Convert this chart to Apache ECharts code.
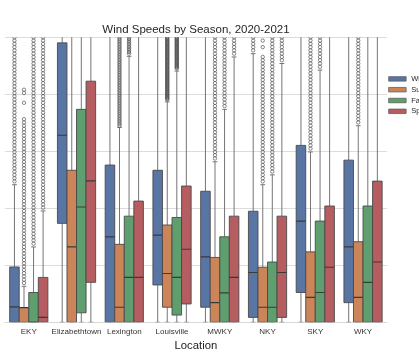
<!DOCTYPE html>
<html><head><meta charset="utf-8">
<script src="https://cdn.jsdelivr.net/npm/echarts@6/dist/echarts.min.js"></script>
<style>html,body{margin:0;padding:0;background:#fff}#c{width:419px;height:358px}</style>
</head><body><div id="c"></div>
<script>
const locations = ['EKY','Elizabethtown','Lexington','Louisville','MWKY','NKY','SKY','WKY'];
const seasons = ['Winter','Summer','Fall','Spring'];
const seasonColors = ['#5975a4','#cc8558','#5f9e6e','#b55d60'];

// box stats per location: [whiskerLow, q1, median, q3, whiskerHigh]
const winterBox = [[0,0,4.7,16.9,42],[0,30.2,57.1,85.3,110],[0,0,26.1,48,110],[0,11.4,26.6,46.4,98],[0,4.6,20,40,93],[0,1.5,15.2,33.9,82],[0,9.1,30.9,54,120],[0,6,23,49.5,115]];
const summerBox = [[0,0,4.5,4.5,11],[0,0,23,46.4,110],[0,0,4.6,23.8,59.5],[0,4.6,14.9,29.7,67.3],[0,0,6,19.8,49],[0,0,4.6,16.8,42],[0,0,7.6,21.5,52],[0,0,7.6,24.6,60]];
const fallBox = [[0,0,0,9.1,23],[0,2.9,35.2,65,108],[0,0,13.7,32.4,81.2],[0,2.2,13.7,32,76.7],[0,0,9,26.1,65],[0,0,4.6,18.4,45],[0,0,9.1,30.9,77],[0,0,12.2,35.5,100]];
const springBox = [[0,0,1.5,13.7,34],[0,12.2,43.2,73.6,120],[0,0,13.7,37,92],[0,5.6,22.3,41.6,95],[0,0,13.7,32.4,81],[0,1.5,15.2,32.4,79],[0,0,16.8,35.5,88],[0,0,18.4,43.1,100]];

// outliers per location
const winterOutliers = [
 [43,44,45,46,47,48,49,50,51,52,53,54,55,56,57,58,59,60,61,62,63,64,65,66,67,68,69,70,71,72,73,74,75,76,77,78,79,80,81,82,83,84,85,86,87],
 [],[],[],[],
 [83,84,85,86,87],
 [],[]
];
const summerOutliers = [
 [12,13,14,15,16,17,18,19,20,21,22,23,24,25,26,27,28,29,30,31,32,33,34,35,36,37,38,39,40,41,42,43,44,45,46,47,48,49,50,51,52,53,54,55,56,57,58,59,60,61,62,67,70,71],
 [],
 [60,60.5,61,61.5,62,62.5,63,63.5,64,64.5,65,65.5,66,66.5,67,67.5,68,68.5,69,69.5,70,70.5,71,71.5,72,72.5,73,73.5,74,74.5,75,75.5,76,76.5,77,77.5,78,78.5,79,79.5,80,80.5,81,81.5,82,82.5,83,83.5,84,84.5,85,85.5,86,86.5,87],
 [68,68.25,68.5,68.75,69,69.25,69.5,69.75,70,70.25,70.5,70.75,71,71.25,71.5,71.75,72,72.25,72.5,72.75,73,73.25,73.5,73.75,74,74.25,74.5,74.75,75,75.25,75.5,75.75,76,76.25,76.5,76.75,77,77.25,77.5,77.75,78,78.25,78.5,78.75,79,79.25,79.5,79.75,80,80.25,80.5,80.75,81,81.25,81.5,81.75,82,82.25,82.5,82.75,83,83.25,83.5,83.75,84,84.25,84.5,84.75,85,85.25,85.5,85.75,86,86.25,86.5,86.75,87],
 [50,51,52,53,54,55,56,57,58,59,60,61,62,63,64,65,66,67,68,69,70,71,72,73,74,75,76,77,78,79,80,81,82,83,84,85,86,87],
 [43,44,45,46,47,48,49,50,51,52,53,54,55,56,57,58,59,60,61,62,63,64,65,66,67,68,69,70,71,72,73,74,75,76,77,78,79,80,81,84,86],
 [53,54,55,56,57,58,59,60,61,62,63,64,65,66,67,68,69,70,71,72,73,74,75,76,77,78,79,80,81,82,83,84,85,86,87],
 [61,62,63,64,65,66,67,68,69,70,71,72,73,74,75,76,77,78,79,80,81,82,83,84,85,86,87]
];
const fallOutliers = [
 [24,25,26,27,28,29,30,31,32,33,34,35,36,37,38,39,40,41,42,43,44,45,46,47,48,49,50,51,52,53,54,55,56,57,58,59,60,61,62,63,64,65,66,67,68,69,70,71,72,73,74,75,76,77,78,79,80,81,82,83,84,85,86,87],
 [],
 [82,82.5,83,83.5,84,84.5,85,85.5,86,86.5,87],
 [77.5,77.75,78,78.25,78.5,78.75,79,79.25,79.5,79.75,80,80.25,80.5,80.75,81,81.25,81.5,81.75,82,82.25,82.5,82.75,83,83.25,83.5,83.75,84,84.25,84.5,84.75,85,85.25,85.5,85.75,86,86.25,86.5,86.75,87],
 [66,67,68,69,70,71,72,73,74,75,76,77,78,79,80,81,82,83,84,85,86,87],
 [46,47,48,49,50,51,52,53,54,55,56,57,58,59,60,61,62,63,64,65,66,67,68,69,70,71,72,73,74,75,76,77,78,79,80,81,82,83,84,85,86,87],
 [78,79,80,81,82,83,84,85,86,87],
 []
];
const springOutliers = [
 [35,36,37,38,39,40,41,42,43,44,45,46,47,48,49,50,51,52,53,54,55,56,57,58,59,60,61,62,63,64,65,66,67,68,69,70,71,72,73,74,75,76,77,78,79,80,81,82,83,84,85,86,87],
 [],[],[],
 [82,83,84,85,86,87],
 [80,81,82,83,84,85,86,87],
 [],[]
];

const boxSets = [winterBox, summerBox, fallBox, springBox];
const outlierSets = [winterOutliers, summerOutliers, fallOutliers, springOutliers];
const EDGE = '#4a4a4a';

function boxRenderer(s){
  return function(params, api){
    const cat = api.value(0);
    const band = api.size([1,0])[0];
    const bw = band*0.2;
    const cx = api.coord([cat,0])[0] + (s-1.5)*bw;
    const yL = api.coord([cat, api.value(1)])[1];
    const yQ1 = api.coord([cat, api.value(2)])[1];
    const yM = api.coord([cat, api.value(3)])[1];
    const yQ3 = api.coord([cat, api.value(4)])[1];
    const yH = api.coord([cat, api.value(5)])[1];
    const ls = {stroke:'#666', lineWidth:0.9, fill:null};
    return {type:'group', children:[
      {type:'line', shape:{x1:cx,y1:yQ3,x2:cx,y2:yH}, style:ls},
      {type:'line', shape:{x1:cx,y1:yQ1,x2:cx,y2:yL}, style:ls},
      {type:'line', shape:{x1:cx-bw/4,y1:yH,x2:cx+bw/4,y2:yH}, style:ls},
      {type:'line', shape:{x1:cx-bw/4,y1:yL,x2:cx+bw/4,y2:yL}, style:ls},
      {type:'rect', shape:{x:cx-bw/2, y:yQ3, width:bw, height:Math.max(yQ1-yQ3,0)}, style:{fill:seasonColors[s], stroke:EDGE, lineWidth:0.9}},
      {type:'line', shape:{x1:cx-bw/2,y1:yM,x2:cx+bw/2,y2:yM}, style:{stroke:'#3a3a3a', lineWidth:1.2}}
    ]};
  };
}
function outlierRenderer(s){
  return function(params, api){
    const cat = api.value(0);
    const band = api.size([1,0])[0];
    const bw = band*0.2;
    const cx = api.coord([cat,0])[0] + (s-1.5)*bw;
    const cy = api.coord([cat, api.value(1)])[1];
    return {type:'circle', shape:{cx:cx, cy:cy, r:1.7}, style:{fill:null, stroke:'#555', lineWidth:0.7}};
  };
}

const series = [];
seasons.forEach((name, s) => {
  series.push({
    name: name, type:'custom', clip:true,
    itemStyle:{color:seasonColors[s]},
    renderItem: boxRenderer(s),
    encode:{x:0, y:[1,2,3,4,5]},
    data: boxSets[s].map((b,i)=>[i].concat(b))
  });
});
seasons.forEach((name, s) => {
  const pts = [];
  outlierSets[s].forEach((arr,i)=>arr.forEach(v=>pts.push([i,v])));
  series.push({
    name: name+' outliers', type:'custom', clip:true,
    renderItem: outlierRenderer(s),
    encode:{x:0, y:1},
    data: pts
  });
});

const chart = echarts.init(document.getElementById('c'), null, {renderer:'canvas'});
chart.setOption({
  animation:false,
  textStyle:{fontFamily:'Liberation Sans, Arial, sans-serif'},
  title:{text:'Wind Speeds by Season, 2020-2021', left:191, top:19, textAlign:'center',
    textStyle:{fontSize:11.5, fontWeight:'normal', color:'#262626', fontFamily:'Liberation Sans'}},
  legend:{data:seasons, orient:'vertical', left:383.3, top:68.5, itemWidth:17.5, itemHeight:4.5, itemGap:0,
    icon:'rect', itemStyle:{borderColor:'#555', borderWidth:0.7},
    textStyle:{fontSize:7.5, lineHeight:10.8, color:'#262626'}},
  grid:{left:4.9, right:32.1, top:37.3, bottom:35.7, containLabel:false},
  xAxis:{type:'category', data:locations, boundaryGap:true,
    axisLine:{show:true, lineStyle:{color:'#d9d9d9'}}, axisTick:{show:false}, splitLine:{show:false},
    axisLabel:{fontSize:8, color:'#333', margin:5, interval:0},
    name:'Location', nameLocation:'middle', nameGap:9, nameTextStyle:{fontSize:11.3, color:'#222'}},
  yAxis:{type:'value', min:0, max:87, interval:17.4,
    axisLabel:{show:false}, axisLine:{show:false}, axisTick:{show:false},
    splitLine:{show:true, lineStyle:{color:'#dcdcdc', width:1}}},
  series: series
});
</script></body></html>
